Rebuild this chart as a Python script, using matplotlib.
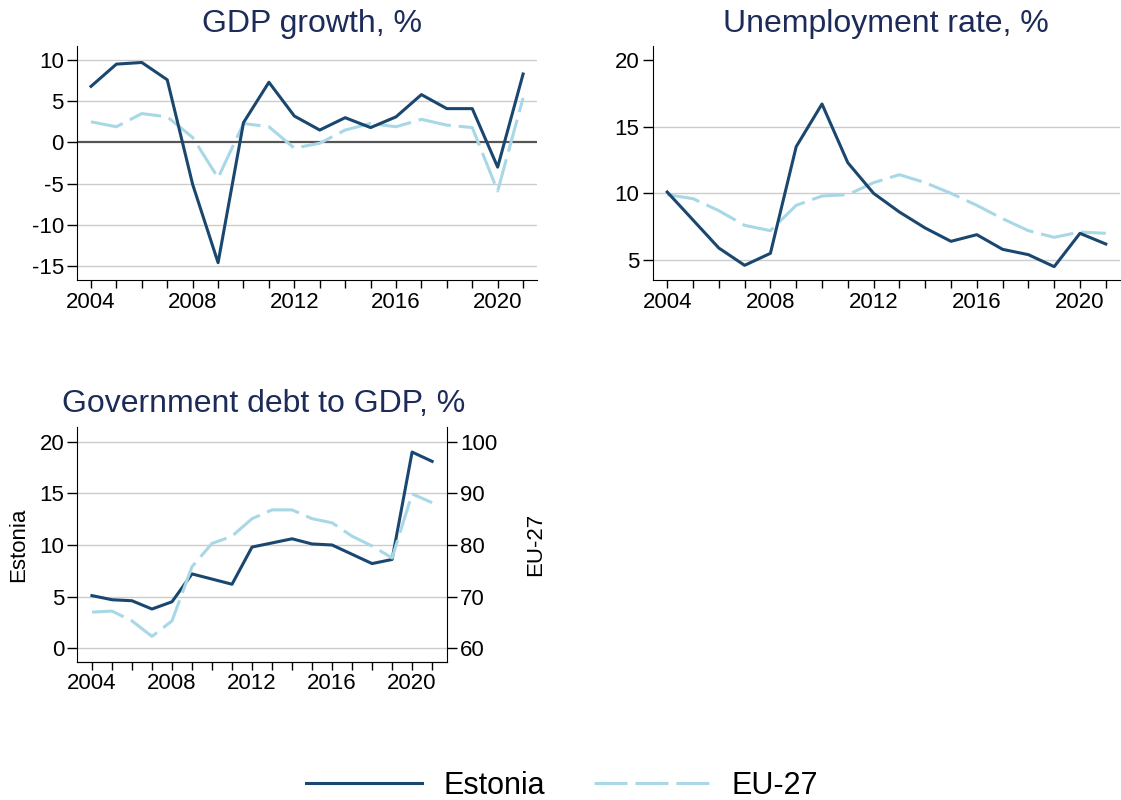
import matplotlib.pyplot as plt
from matplotlib.lines import Line2D

plt.rcParams["font.family"] = ["Liberation Sans", "DejaVu Sans"]
plt.rcParams["axes.unicode_minus"] = False

# ── Data ───────────────────────────────────────────────────────────────────────
years = list(range(2004, 2022))

gdp_est = [6.8, 9.5, 9.7, 7.6, -5.1, -14.6, 2.4, 7.3, 3.2, 1.5, 3.0, 1.8, 3.1, 5.8, 4.1, 4.1, -3.0, 8.3]
gdp_eu = [2.5, 1.9, 3.5, 3.1, 0.6, -4.3, 2.3, 1.9, -0.7, -0.1, 1.5, 2.3, 1.9, 2.8, 2.1, 1.8, -5.9, 5.4]

unemp_est = [10.1, 8.0, 5.9, 4.6, 5.5, 13.5, 16.7, 12.3, 10.0, 8.6, 7.4, 6.4, 6.9, 5.8, 5.4, 4.5, 7.0, 6.2]
unemp_eu = [9.9, 9.6, 8.7, 7.6, 7.2, 9.1, 9.8, 9.9, 10.8, 11.4, 10.8, 10.0, 9.1, 8.1, 7.2, 6.7, 7.1, 7.0]

debt_est = [5.1, 4.7, 4.6, 3.8, 4.5, 7.2, 6.7, 6.2, 9.8, 10.2, 10.6, 10.1, 10.0, 9.1, 8.2, 8.6, 19.0, 18.1]
debt_eu = [67.0, 67.2, 65.3, 62.3, 65.3, 75.8, 80.3, 81.7, 85.1, 86.8, 86.8, 85.1, 84.3, 81.7, 79.8, 77.5, 89.9, 88.2]

# ── Style ──────────────────────────────────────────────────────────────────────
NAVY = "#1a476f"
LTBLUE = "#a8d8e6"
TITLE_COL = "#1c2b58"
GRID_COL = "#cccccc"
LW = 2.2
DASH = (10.8, 2.6)
TICK_FS = 16
TITLE_FS = 23


def style_axis(ax, xlim):
    ax.set_xlim(*xlim)
    ax.set_xticks(years)
    ax.set_xticklabels([str(y) if y % 4 == 0 else "" for y in years])
    ax.spines[["top", "right"]].set_visible(False)
    ax.tick_params(axis="both", labelsize=TICK_FS, width=1, colors="black")
    ax.tick_params(axis="y", length=7, pad=2.5)
    ax.tick_params(axis="x", length=6, pad=2.5)


def gridlines(ax, levels):
    for lv in levels:
        ax.axhline(lv, color=GRID_COL, lw=1, zorder=0)


fig = plt.figure(figsize=(11.21, 8.0), dpi=100)

# ── Panel 1: GDP growth ────────────────────────────────────────────────────────
ax1 = fig.add_axes([0.0687, 0.65, 0.4104, 0.2925])
gridlines(ax1, [10, 5, -5, -10, -15])
ax1.axhline(0, color="#555555", lw=1.6, zorder=1)
ax1.plot(years, gdp_est, color=NAVY, lw=LW, zorder=3)
ax1.plot(years, gdp_eu, color=LTBLUE, lw=LW, dashes=DASH, zorder=2)
ax1.set_ylim(-16.7, 11.7)
ax1.set_yticks([-15, -10, -5, 0, 5, 10])
style_axis(ax1, (2003.45, 2021.55))
fig.text(312 / 1121, 1 - 32 / 800, "GDP growth, %", ha="center", va="baseline",
         fontsize=TITLE_FS, color=TITLE_COL)

# ── Panel 2: Unemployment rate ─────────────────────────────────────────────────
ax2 = fig.add_axes([0.5823, 0.65, 0.417, 0.2925])
gridlines(ax2, [5, 10, 15])
ax2.plot(years, unemp_est, color=NAVY, lw=LW, zorder=3)
ax2.plot(years, unemp_eu, color=LTBLUE, lw=LW, dashes=DASH, zorder=2)
ax2.set_ylim(3.5, 21.05)
ax2.set_yticks([5, 10, 15, 20])
style_axis(ax2, (2003.44, 2021.56))
fig.text(886 / 1121, 1 - 32 / 800, "Unemployment rate, %", ha="center", va="baseline",
         fontsize=TITLE_FS, color=TITLE_COL)

# ── Panel 3: Government debt (twin axes) ───────────────────────────────────────
ax3 = fig.add_axes([0.069, 0.1729, 0.3295, 0.293])
gridlines(ax3, [0, 5, 10, 15, 20])
ax3.plot(years, debt_est, color=NAVY, lw=LW, zorder=3)
ax3.set_ylim(-1.3, 21.4)
ax3.set_yticks([0, 5, 10, 15, 20])
style_axis(ax3, (2003.27, 2021.73))
ax3.set_ylabel("Estonia", fontsize=16, labelpad=7)

ax3r = ax3.twinx()
ax3r.plot(years, debt_eu, color=LTBLUE, lw=LW, dashes=DASH, zorder=2)
ax3r.set_ylim(60 + 2 * -1.3, 60 + 2 * 21.4)
ax3r.set_yticks([60, 70, 80, 90, 100])
ax3r.spines[["top", "left"]].set_visible(False)
ax3r.tick_params(axis="y", labelsize=TICK_FS, length=7, width=1, pad=2.5)
ax3r.set_ylabel("EU-27", fontsize=16, labelpad=20)
fig.text(264 / 1121, 1 - 412 / 800, "Government debt to GDP, %", ha="center",
         va="baseline", fontsize=TITLE_FS, color=TITLE_COL)

# ── Legend ─────────────────────────────────────────────────────────────────────
handles = [
    Line2D([], [], color=NAVY, lw=LW, label="Estonia"),
    Line2D([], [], color=LTBLUE, lw=LW, dashes=DASH, label="EU-27"),
]
fig.legend(handles=handles, loc="center", bbox_to_anchor=(562 / 1121, 1 - 786 / 800),
           ncol=2, frameon=False, fontsize=22, handlelength=3.8,
           handletextpad=0.7, columnspacing=1.6, borderpad=0)

plt.savefig("out.png", dpi=100)
plt.close()
